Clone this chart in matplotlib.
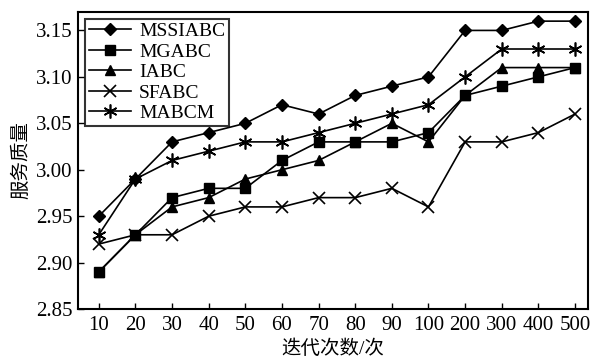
import matplotlib
matplotlib.use("Agg")
import matplotlib.pyplot as plt

plt.rcParams['font.family'] = ['Liberation Serif', 'Noto Sans CJK SC']

iterations = ['10', '20', '30', '40', '50', '60', '70', '80', '90', '100', '200', '300', '400', '500']
mssiabc = [2.95, 2.99, 3.03, 3.04, 3.05, 3.07, 3.06, 3.08, 3.09, 3.10, 3.15, 3.15, 3.16, 3.16]
mgabc = [2.89, 2.93, 2.97, 2.98, 2.98, 3.01, 3.03, 3.03, 3.03, 3.04, 3.08, 3.09, 3.10, 3.11]
iabc = [2.89, 2.93, 2.96, 2.97, 2.99, 3.00, 3.01, 3.03, 3.05, 3.03, 3.08, 3.11, 3.11, 3.11]
sfabc = [2.92, 2.93, 2.93, 2.95, 2.96, 2.96, 2.97, 2.97, 2.98, 2.96, 3.03, 3.03, 3.04, 3.06]
mabcm = [2.93, 2.99, 3.01, 3.02, 3.03, 3.03, 3.04, 3.05, 3.06, 3.07, 3.10, 3.13, 3.13, 3.13]
yticks = [2.85, 2.90, 2.95, 3.00, 3.05, 3.10, 3.15]

fig = plt.figure(figsize=(5.9, 3.59), dpi=100)
ax = fig.add_axes([0.132, 0.139, 0.865, 0.828])

x = range(len(iterations))
style = dict(color='black', lw=1.2)
ax.plot(x, mssiabc, marker='D', ms=6, label='MSSIABC', **style)
ax.plot(x, mgabc, marker='s', ms=6.5, label='MGABC', **style)
ax.plot(x, iabc, marker='^', ms=6.5, label='IABC', **style)
ax.plot(x, sfabc, marker='x', ms=8, mew=1.2, label='SFABC', **style)
ax.plot(x, mabcm, marker=(6, 2, 0), ms=10, mew=1.2, label='MABCM', **style)

ax.set_xticks(list(x))
ax.set_xticklabels(iterations)
ax.set_yticks(yticks)
ax.set_yticklabels([f'{v:.2f}' for v in yticks])
ax.set_xlim(-0.57, 13.36)
ax.set_ylim(2.85, 3.17)
ax.tick_params(direction='in', length=4, width=1, labelsize=15, colors='black')
ax.tick_params(axis='x', pad=5)
ax.tick_params(axis='y', pad=4)
for s in ax.spines.values():
    s.set_linewidth(1.5)

ax.set_xlabel('迭代次数/次', fontsize=14, labelpad=3)
ax.set_ylabel('服务质量', fontsize=14, labelpad=4)

leg = ax.legend(loc='upper left', fontsize=14, frameon=True, fancybox=False,
                edgecolor='black', handlelength=2.2, borderaxespad=0.35,
                labelspacing=0.15, borderpad=0.2, handletextpad=0.4)
leg.get_frame().set_linewidth(1.5)

fig.savefig('out.png', dpi=100)
